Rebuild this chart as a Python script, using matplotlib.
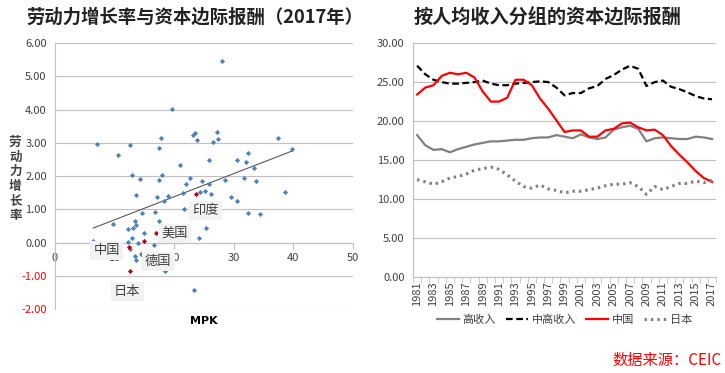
import matplotlib
matplotlib.use("Agg")
import matplotlib.pyplot as plt
import numpy as np

plt.rcParams['font.family'] = ['Noto Sans CJK SC', 'DejaVu Sans']

# ---- left chart data: MPK vs labour growth (2017) ----
mpk = [7.1, 10.5, 12.6, 12.9, 14.3, 17.4, 17.5, 17.7, 18.0, 19.7, 20.9, 21.9,
       22.7, 23.1, 23.5, 23.8, 24.7, 25.8, 25.8, 26.5, 27.2, 27.3, 28.1, 28.6,
       30.6, 31.7, 32.1, 32.4, 33.4, 33.8, 37.4, 39.8, 13.6, 17.1, 19.0, 21.5,
       24.4, 25.2, 26.1, 18.3, 21.6, 29.6, 30.6, 32.4, 34.4, 38.6, 14.6, 16.8,
       17.4, 9.7, 13.4, 13.6, 12.2, 13.1, 15.0, 12.9, 6.4, 12.2, 14.0, 16.6,
       24.2, 25.3, 12.6, 13.4, 13.6, 14.5, 18.5, 23.4]
growth = [2.95, 2.62, 2.93, 2.02, 1.92, 1.87, 2.85, 3.13, 2.04, 4.02, 2.32, 1.77,
          1.95, 3.22, 3.28, 3.08, 1.85, 2.47, 1.76, 3.03, 3.32, 3.10, 5.47, 1.89,
          2.48, 1.95, 2.41, 2.70, 2.24, 1.84, 3.13, 2.80, 1.44, 1.36, 1.41, 1.49,
          1.52, 1.56, 1.46, 1.24, 1.01, 1.36, 1.24, 0.89, 0.87, 1.53, 0.89, 0.93,
          0.64, 0.56, 0.65, 0.52, 0.42, 0.44, 0.28, 0.14, 0.05, 0.03, -0.02, -0.06,
          0.14, 0.44, -0.20, -0.41, -0.53, -0.36, -0.87, -1.43]

hl_names = ['中国', '美国', '德国', '日本', '印度']
hl_mpk = [12.4, 17.0, 15.0, 12.6, 23.6]
hl_growth = [-0.13, 0.29, 0.04, -0.86, 1.46]
hl_label_pos = [(8.7, -0.24), (20.0, 0.27), (17.3, -0.57), (12.1, -1.47), (25.2, 0.96)]

# ---- right chart data: MPK by income group ----
years = list(range(1981, 2018))
high_income = [18.2, 16.9, 16.3, 16.4, 16.0, 16.4, 16.7, 17.0, 17.2, 17.4, 17.4, 17.5,
               17.6, 17.6, 17.8, 17.9, 17.9, 18.2, 18.0, 17.8, 18.3, 17.9, 17.7, 17.9,
               18.9, 19.2, 19.4, 19.0, 17.4, 17.8, 17.9, 17.8, 17.7, 17.7, 18.0, 17.9, 17.7]
upper_middle = [27.1, 26.0, 25.3, 25.0, 24.8, 24.8, 24.9, 25.0, 25.2, 24.8, 24.6, 24.6,
                24.8, 24.9, 25.0, 25.1, 25.0, 24.3, 23.3, 23.6, 23.6, 24.2, 24.5, 25.4,
                25.9, 26.6, 27.1, 26.7, 24.5, 25.0, 25.2, 24.4, 24.1, 23.7, 23.2, 22.9, 22.8]
china = [23.4, 24.3, 24.6, 25.8, 26.2, 26.0, 26.2, 25.6, 23.8, 22.5, 22.5, 23.0,
         25.3, 25.3, 24.6, 22.9, 21.6, 20.1, 18.6, 18.8, 18.8, 18.0, 18.0, 18.8,
         19.0, 19.7, 19.8, 19.2, 18.8, 18.9, 18.2, 16.8, 15.7, 14.7, 13.6, 12.7, 12.2]
japan = [12.5, 12.2, 11.9, 12.2, 12.7, 12.9, 13.2, 13.7, 13.9, 14.1, 13.8, 13.1,
         12.3, 11.6, 11.4, 11.8, 11.3, 11.1, 10.8, 11.0, 11.0, 11.2, 11.4, 11.7,
         11.9, 11.9, 12.1, 11.6, 10.6, 11.6, 11.2, 11.6, 12.0, 12.0, 12.3, 12.1, 12.4]

grid_c = '#C0C0C0'
txt_c = '#404040'

fig = plt.figure(figsize=(7.25, 3.73), dpi=100)

# ================= left =================
ax1 = fig.add_axes([0.0759, 0.1716, 0.411, 0.713])
ax1.scatter(mpk, growth, marker='D', s=7, color='#4F81BD', zorder=3, linewidths=0)
ax1.scatter(hl_mpk, hl_growth, marker='D', s=7, color='#C0001A', zorder=4, linewidths=0)

# linear trend over all points
allx = np.array(mpk + hl_mpk)
ally = np.array(growth + hl_growth)
k, b = np.polyfit(allx, ally, 1)
xx = np.array([allx.min(), allx.max()])
ax1.plot(xx, k * xx + b, color='#595959', lw=0.8, zorder=2)

for name, (lx, ly) in zip(hl_names, hl_label_pos):
    ax1.text(lx, ly, name, fontsize=9.5, color=txt_c, ha='center', va='center', zorder=5,
             bbox=dict(boxstyle='square,pad=0.25', fc='#F2F2F2', ec='none'))

ax1.set_xlim(0, 50)
ax1.set_ylim(-2, 6)
ax1.set_yticks(np.arange(-2, 7, 1))
ax1.set_yticklabels(['%.2f' % v for v in np.arange(-2, 7, 1)])
ax1.set_xticks(np.arange(0, 51, 10))
ax1.yaxis.grid(True, color=grid_c, lw=0.8)
ax1.set_axisbelow(True)
for s in ['top', 'right']:
    ax1.spines[s].set_visible(False)
ax1.spines['bottom'].set_position(('data', 0))
ax1.spines['bottom'].set_color(grid_c)
ax1.spines['left'].set_color(grid_c)
ax1.tick_params(axis='y', length=0, labelsize=8, labelcolor=txt_c, pad=6)
ax1.tick_params(axis='x', length=4, color=grid_c, labelsize=8, labelcolor=txt_c)
for lab, v in zip(ax1.get_yticklabels(), np.arange(-2, 7, 1)):
    if v < 0:
        lab.set_color('red')
ax1.text(0.5, -0.025, 'MPK', transform=ax1.transAxes, ha='center', va='top',
         fontsize=8, fontweight='bold', color='black', family=['DejaVu Sans'])
fig.text(0.021, 0.52, '\n'.join('劳动力增长率'), ha='center', va='center', fontsize=9,
         fontweight='bold', color=txt_c, linespacing=1.15)
fig.text(0.037, 0.955, '劳动力增长率与资本边际报酬（2017年）', fontsize=13.2,
         fontweight='bold', ha='left', va='center', color='#222222')

# ================= right =================
ax2 = fig.add_axes([0.5697, 0.2574, 0.418, 0.627])
xi = np.arange(len(years))
ax2.plot(xi, high_income, color='#808080', lw=1.6, label='高收入')
ax2.plot(xi, upper_middle, color='black', lw=1.6, ls=(0, (3, 1.6)), label='中高收入')
ax2.plot(xi, china, color='#FF0000', lw=1.6, label='中国')
ax2.plot(xi, japan, color='#808080', lw=2.2, ls=(0, (0.8, 1.3)), label='日本')

ax2.set_xlim(-0.5, len(years) - 0.5)
ax2.set_ylim(0, 30)
ax2.set_yticks(np.arange(0, 31, 5))
ax2.set_yticklabels(['%.2f' % v for v in np.arange(0, 31, 5)])
ax2.set_xticks(xi[::2])
ax2.set_xticklabels([str(y) for y in years[::2]], rotation=90)
ax2.set_xticks(np.arange(-0.5, len(years), 1), minor=True)
ax2.tick_params(axis='x', which='major', length=0, labelsize=8, labelcolor=txt_c, pad=3)
ax2.tick_params(axis='x', which='minor', length=4, color=grid_c)
ax2.tick_params(axis='y', length=0, labelsize=8, labelcolor=txt_c, pad=6)
ax2.yaxis.grid(True, color=grid_c, lw=0.8)
ax2.set_axisbelow(True)
for s in ['top', 'right']:
    ax2.spines[s].set_visible(False)
ax2.spines['bottom'].set_color(grid_c)
ax2.spines['left'].set_color(grid_c)
ax2.legend(loc='center', bbox_to_anchor=(0.5, -0.184), ncol=4, frameon=False,
           fontsize=8, handlelength=2.0, columnspacing=0.9, handletextpad=0.3,
           labelcolor=txt_c)
fig.text(0.570, 0.955, '按人均收入分组的资本边际报酬', fontsize=13.8,
         fontweight='bold', ha='left', va='center', color='#222222')

fig.text(0.996, 0.035, '数据来源：CEIC', color='#FF0000', fontsize=11, ha='right', va='center')

fig.savefig('out.png', dpi=100)
